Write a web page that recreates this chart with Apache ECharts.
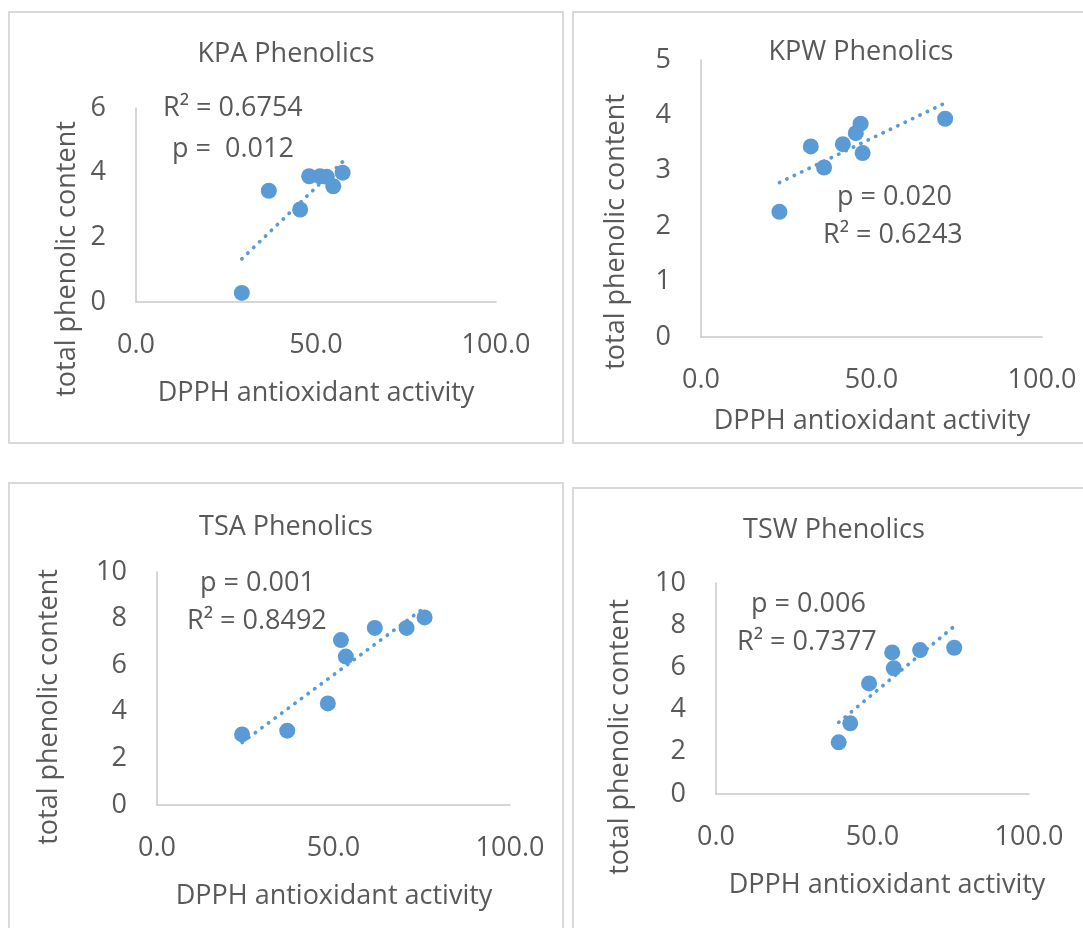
<!DOCTYPE html>
<html>
<head>
<meta charset="utf-8">
<script src="https://cdn.jsdelivr.net/npm/echarts@6/dist/echarts.min.js"></script>
<style>
html,body{margin:0;padding:0;background:#fff;}
#c{width:1083px;height:928px;}
</style>
</head>
<body>
<div id="c"></div>
<script>
// ---- data ----
const kpaX = [29.4, 36.9, 45.6, 48.1, 51.1, 53.0, 54.8, 57.4];
const kpaY = [0.28, 3.44, 2.86, 3.89, 3.89, 3.87, 3.58, 4.00];
const kpwX = [23.0, 32.2, 36.1, 41.6, 45.4, 46.8, 47.4, 71.6];
const kpwY = [2.26, 3.44, 3.06, 3.48, 3.68, 3.85, 3.32, 3.94];
const tsaX = [24.1, 36.9, 48.4, 52.1, 53.5, 61.7, 70.7, 75.8];
const tsaY = [3.03, 3.19, 4.36, 7.08, 6.37, 7.60, 7.60, 8.05];
const tswX = [39.2, 42.9, 48.9, 56.3, 56.8, 65.2, 76.1];
const tswY = [2.45, 3.35, 5.24, 6.71, 5.96, 6.82, 6.93];

const titles = ['KPA Phenolics', 'KPW Phenolics', 'TSA Phenolics', 'TSW Phenolics'];
const statLines = [
  ['R\u00B2 = 0.6754', 'p =  0.012'],
  ['p = 0.020', 'R\u00B2 = 0.6243'],
  ['p = 0.001', 'R\u00B2 = 0.8492'],
  ['p = 0.006', 'R\u00B2 = 0.7377']
];
const xName = 'DPPH antioxidant activity';
const yName = 'total phenolic content';
const xTicks = {min: 0, max: 100, interval: 50};
const yTicks = [
  {min: 0, max: 6, interval: 2},
  {min: 0, max: 5, interval: 1},
  {min: 0, max: 10, interval: 2},
  {min: 0, max: 10, interval: 2}
];

// ---- layout / style ----
const FONT = '"Open Sans", "Noto Sans", sans-serif';
const TXT = '#595959';
const BLUE = '#5B9BD5';
const FS = 27;
const DY = 2;

const panels = [
  {xs: kpaX, ys: kpaY, grid: {left: 136, top: 108, width: 360, height: 194},
   border: [9, 12, 554, 431], title: [286, 52], xn: [316, 391], yn: [65, 259],
   stats: [[163, 106], [172, 147]]},
  {xs: kpwX, ys: kpwY, grid: {left: 701, top: 60, width: 341, height: 277},
   border: [573, 12, 530, 431], title: [861, 50], xn: [872, 419], yn: [614, 232],
   stats: [[837, 195], [823, 233]]},
  {xs: tsaX, ys: tsaY, grid: {left: 157, top: 572, width: 353, height: 233},
   border: [9, 483, 554, 480], title: [286, 525], xn: [334, 894], yn: [47, 707],
   stats: [[200, 581], [187, 619]]},
  {xs: tswX, ys: tswY, grid: {left: 716, top: 583, width: 313, height: 211},
   border: [573, 488, 530, 480], title: [834, 528], xn: [887, 883], yn: [618, 737],
   stats: [[751, 602], [737, 640]]}
];

function linFit(xs, ys) {
  const n = xs.length;
  let mx = 0, my = 0;
  for (let i = 0; i < n; i++) { mx += xs[i]; my += ys[i]; }
  mx /= n; my /= n;
  let sxy = 0, sxx = 0;
  for (let i = 0; i < n; i++) { sxy += (xs[i]-mx)*(ys[i]-my); sxx += (xs[i]-mx)*(xs[i]-mx); }
  const b = sxy / sxx, a = my - b*mx;
  const x0 = Math.min(...xs), x1 = Math.max(...xs);
  return [[x0, a + b*x0], [x1, a + b*x1]];
}

const grids = [], xAxes = [], yAxes = [], series = [], graphics = [];
panels.forEach((p, i) => {
  grids.push(Object.assign({containLabel: false}, p.grid));
  xAxes.push({
    type: 'value', gridIndex: i, min: xTicks.min, max: xTicks.max, interval: xTicks.interval,
    axisLine: {show: true, lineStyle: {color: '#c9c9c9', width: 1.5}},
    axisTick: {show: false}, splitLine: {show: false},
    axisLabel: {color: TXT, fontFamily: FONT, fontSize: FS, margin: 30,
      formatter: v => v.toFixed(1)}
  });
  yAxes.push({
    type: 'value', gridIndex: i, min: yTicks[i].min, max: yTicks[i].max, interval: yTicks[i].interval,
    axisLine: {show: true, lineStyle: {color: '#c9c9c9', width: 1.5}},
    axisTick: {show: false}, splitLine: {show: false},
    axisLabel: {color: TXT, fontFamily: FONT, fontSize: FS, margin: 30}
  });
  series.push({
    type: 'line', xAxisIndex: i, yAxisIndex: i, data: linFit(p.xs, p.ys),
    symbol: 'none', silent: true, z: 1,
    lineStyle: {color: BLUE, width: 3.7, type: [0.3, 7.9], cap: 'round', opacity: 1}
  });
  series.push({
    type: 'scatter', xAxisIndex: i, yAxisIndex: i, z: 2,
    data: p.xs.map((x, k) => [x, p.ys[k]]),
    symbol: 'circle', symbolSize: 16, itemStyle: {color: BLUE, opacity: 1}
  });
  const b = p.border;
  graphics.push({type: 'rect', shape: {x: b[0], y: b[1], width: b[2], height: b[3]},
    style: {fill: null, stroke: '#d9d9d9', lineWidth: 2}, z: 0, silent: true});
  graphics.push({type: 'text', x: p.title[0], y: p.title[1] + DY,
    style: {text: titles[i], fill: TXT, font: FS + 'px ' + FONT, align: 'center', verticalAlign: 'middle'}});
  graphics.push({type: 'text', x: p.xn[0], y: p.xn[1] + DY,
    style: {text: xName, fill: TXT, font: FS + 'px ' + FONT, align: 'center', verticalAlign: 'middle'}});
  graphics.push({type: 'text', x: p.yn[0] + DY, y: p.yn[1], rotation: Math.PI/2,
    style: {text: yName, fill: TXT, font: FS + 'px ' + FONT, align: 'center', verticalAlign: 'middle'}});
  statLines[i].forEach((t, k) => {
    graphics.push({type: 'text', x: p.stats[k][0], y: p.stats[k][1] + DY,
      style: {text: t, fill: TXT, font: FS + 'px ' + FONT, align: 'left', verticalAlign: 'middle'}});
  });
});

const chart = echarts.init(document.getElementById('c'), null, {renderer: 'canvas'});
chart.setOption({
  animation: false,
  backgroundColor: '#ffffff',
  grid: grids, xAxis: xAxes, yAxis: yAxes, series: series,
  graphic: graphics
});
</script>
</body>
</html>
